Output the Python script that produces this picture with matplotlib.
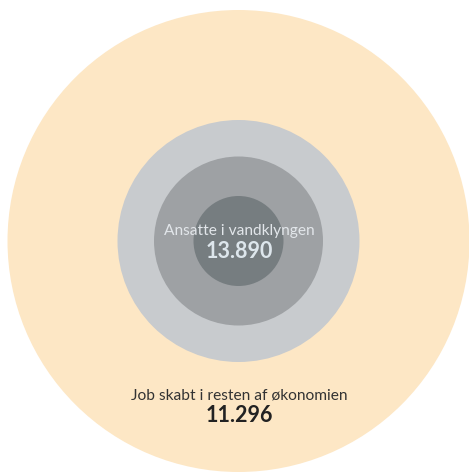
import matplotlib
matplotlib.use("Agg")
import matplotlib.pyplot as plt
from matplotlib.patches import Circle

# Data
labels = ["Ansatte i vandklyngen", "Job skabt i resten af økonomien"]
values = [13890, 11296]

def fmt(v):
    return f"{v:,}".replace(",", ".")

# Layout / style
outer_radius = 231
ring_radii = [121, 84.5, 45]
ring_colors = ["#C8CBCE", "#9EA1A4", "#767D80"]
outer_color = "#FDE7C5"
cx, cy = 238.5, 241

plt.rcParams['font.family'] = ['Lato', 'DejaVu Sans']

fig = plt.figure(figsize=(4.69, 4.72), dpi=100)
ax = fig.add_axes([0, 0, 1, 1])
ax.set_xlim(0, 469)
ax.set_ylim(472, 0)
ax.set_aspect('equal')
ax.axis('off')

ax.add_patch(Circle((cx, cy), outer_radius, color=outer_color, lw=0))
for r, c in zip(ring_radii, ring_colors):
    ax.add_patch(Circle((cx, cy), r, color=c, lw=0))

ax.text(cx + 1, 231, labels[0], ha='center', va='center', fontsize=11.2,
        color="#E2E6EA")
ax.text(cx + 1, 252, fmt(values[0]), ha='center', va='center', fontsize=15.5,
        fontweight='bold', color="#DDE6EC")
ax.text(cx + 1, 395, labels[1], ha='center', va='center', fontsize=11.2,
        color="#333333")
ax.text(cx + 1, 415, fmt(values[1]), ha='center', va='center', fontsize=15.5,
        fontweight='bold', color="#222222")

fig.savefig("out.png", dpi=100)
